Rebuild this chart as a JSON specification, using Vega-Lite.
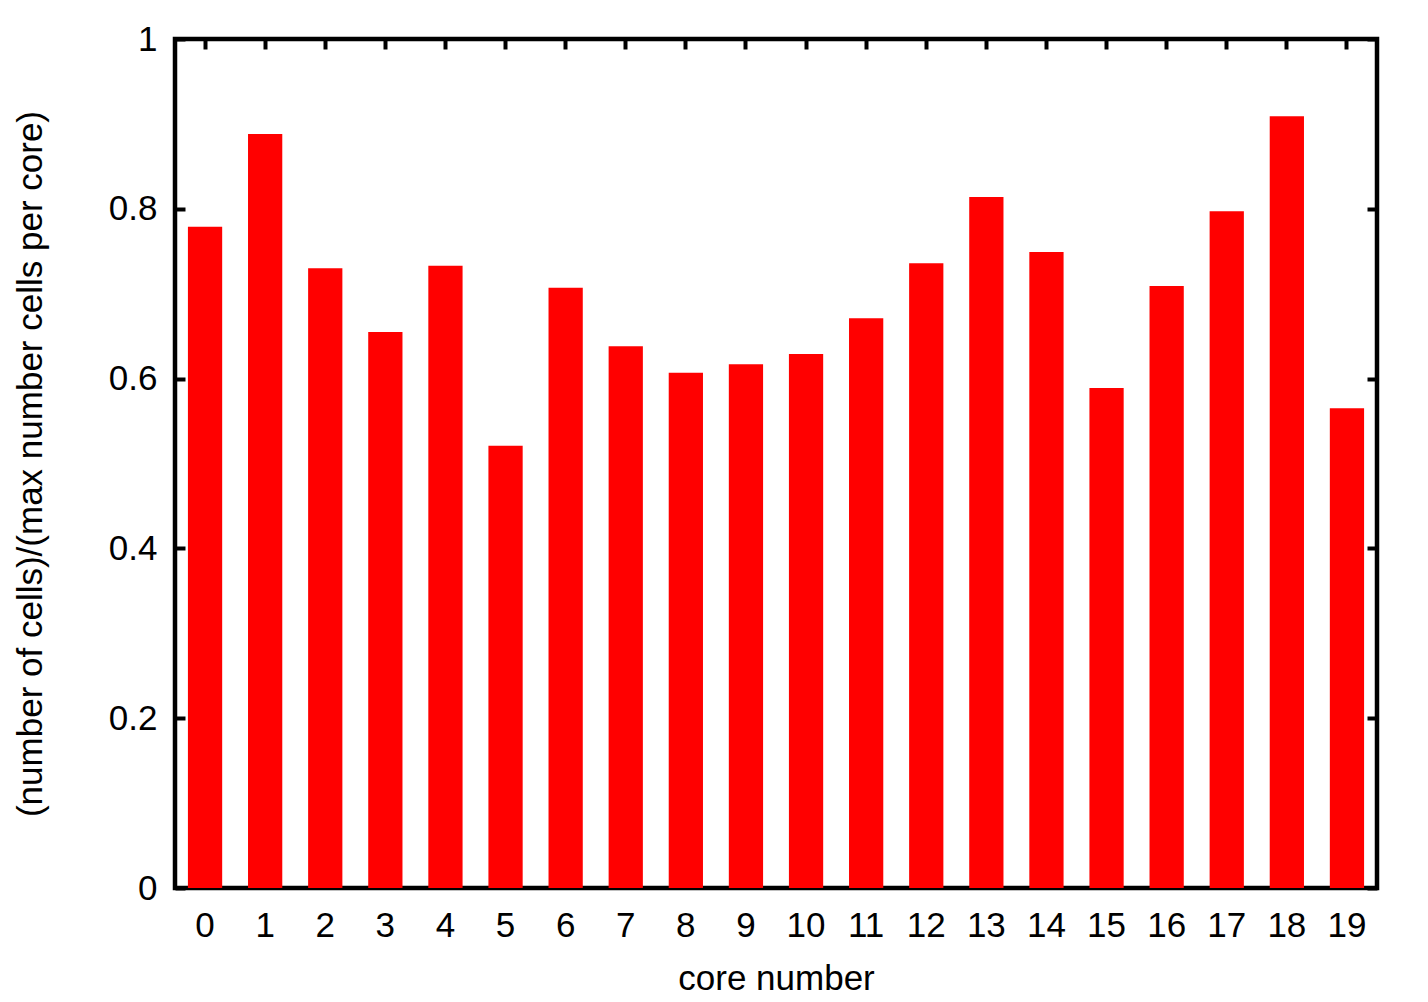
{
  "$schema": "https://vega.github.io/schema/vega-lite/v6.json",
  "width": 1202,
  "height": 849,
  "autosize": {"type": "none"},
  "padding": {"left": 175, "top": 39, "right": 51, "bottom": 114},
  "background": "white",
  "config": {
    "view": {"stroke": "black", "strokeWidth": 4.5},
    "font": "Liberation Sans",
    "axis": {
      "domain": false,
      "grid": false,
      "tickColor": "black",
      "tickWidth": 4,
      "labelFont": "Liberation Sans",
      "titleFont": "Liberation Sans",
      "labelFontSize": 35,
      "titleFontSize": 35,
      "labelColor": "black",
      "titleColor": "black",
      "titleFontWeight": "normal"
    }
  },
  "data": {
    "values": [
      {"core": "0", "v": 0.779},
      {"core": "1", "v": 0.888},
      {"core": "2", "v": 0.730},
      {"core": "3", "v": 0.655},
      {"core": "4", "v": 0.733},
      {"core": "5", "v": 0.521},
      {"core": "6", "v": 0.707},
      {"core": "7", "v": 0.638},
      {"core": "8", "v": 0.607},
      {"core": "9", "v": 0.617},
      {"core": "10", "v": 0.629},
      {"core": "11", "v": 0.671},
      {"core": "12", "v": 0.736},
      {"core": "13", "v": 0.814},
      {"core": "14", "v": 0.749},
      {"core": "15", "v": 0.589},
      {"core": "16", "v": 0.709},
      {"core": "17", "v": 0.797},
      {"core": "18", "v": 0.909},
      {"core": "19", "v": 0.565}
    ]
  },
  "resolve": {"axis": {"x": "independent", "y": "independent"}},
  "layer": [
    {
      "mark": {"type": "bar", "color": "#ff0000"},
      "encoding": {
        "x": {
          "field": "core", "type": "ordinal", "sort": null,
          "scale": {"paddingInner": 0.43, "paddingOuter": 0.215},
          "axis": {"orient": "bottom", "ticks": false, "labelAngle": 0, "labelPadding": 20, "title": "core number", "titlePadding": 18}
        },
        "y": {
          "field": "v", "type": "quantitative",
          "scale": {"domain": [0, 1], "nice": false},
          "axis": {"orient": "left", "values": [0, 0.2, 0.4, 0.6, 0.8, 1], "format": "~g", "tickSize": -10, "labelPadding": 28, "title": "(number of cells)/(max number cells per core)", "titlePadding": 60}
        }
      }
    },
    {
      "mark": {"type": "bar", "opacity": 0},
      "encoding": {
        "x": {
          "field": "core", "type": "ordinal", "sort": null,
          "axis": {"orient": "top", "labels": false, "tickSize": -10, "title": null}
        },
        "y": {
          "field": "v", "type": "quantitative",
          "axis": {"orient": "right", "labels": false, "values": [0, 0.2, 0.4, 0.6, 0.8, 1], "tickSize": -10, "title": null}
        }
      }
    }
  ]
}
